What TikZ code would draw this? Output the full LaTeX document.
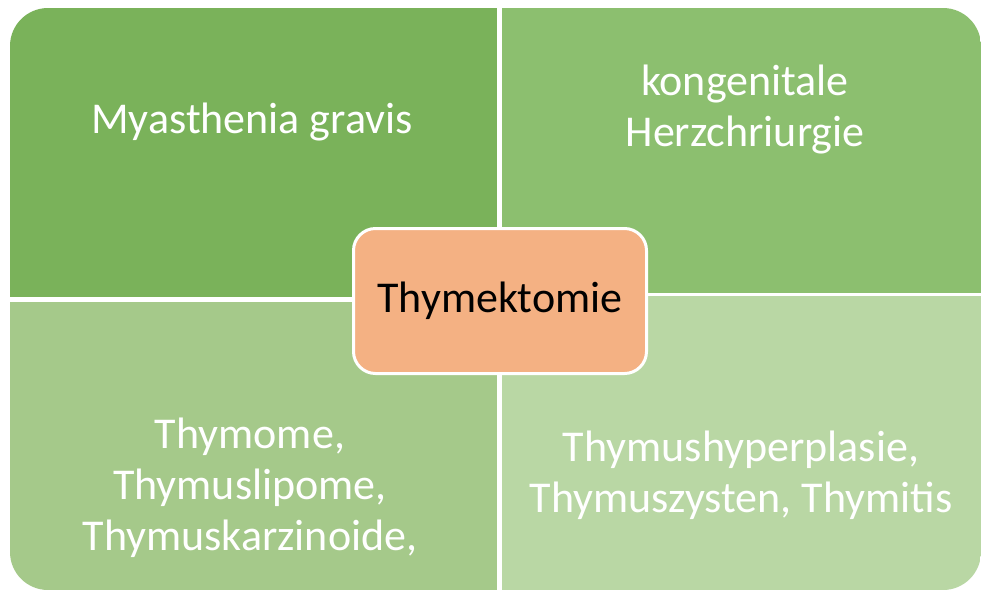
\documentclass[tikz,border=0pt]{standalone}
\usepackage{fontspec}
\setmainfont{Carlito}
\definecolor{qtl}{HTML}{7AB25A}
\definecolor{qtr}{HTML}{8CBF6F}
\definecolor{qbl}{HTML}{A5C98A}
\definecolor{qbr}{HTML}{B9D7A4}
\definecolor{core}{HTML}{F4B183}
\begin{document}
\begin{tikzpicture}[x=1pt,y=-1pt,
  quad/.style={draw=none, rectangle, inner sep=0pt, outer sep=0pt, anchor=north west},
  lbl/.style={text=white, align=center, inner sep=0pt, font=\fontsize{44}{51}\selectfont},
  centerbox/.style={rectangle, rounded corners=22pt, fill=core, draw=white, line width=3pt,
    minimum width=293pt, minimum height=145pt, inner sep=0pt, font=\fontsize{44}{51}\selectfont, text=black}]
\useasboundingbox (0,0) rectangle (981,592);
\fill[white] (0,0) rectangle (981,592);
\begin{scope}
  \clip[rounded corners=38pt] (10,8) rectangle (981,590);
  \node[quad, fill=qtl, minimum width=487pt, minimum height=289pt] (q1) at (10,8) {};
  \node[quad, fill=qtr, minimum width=479pt, minimum height=285pt] (q2) at (502,8) {};
  \node[quad, fill=qbl, minimum width=487pt, minimum height=288pt] (q3) at (10,302) {};
  \node[quad, fill=qbr, minimum width=479pt, minimum height=294pt] (q4) at (502,296) {};
\end{scope}
\node[lbl, anchor=base] (t1) at (252,133) {Myasthenia gravis};
\node[lbl] (t2) at (745,110) {kongenitale\\Herzchriurgie};
\node[lbl] (t3) at (250,488) {Thymome,\\Thymuslipome,\\Thymuskarzinoide,};
\node[lbl] (t4) at (741,475) {Thymushyperplasie,\\Thymuszysten, Thymitis};
\node[centerbox] (c) at (500,301) {Thymektomie};
\end{tikzpicture}
\end{document}
